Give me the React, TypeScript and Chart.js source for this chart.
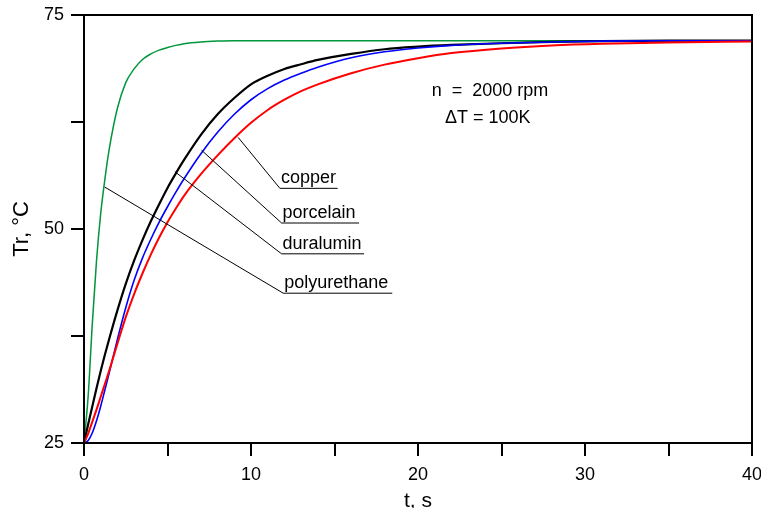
import React, { useEffect, useRef } from 'react';
import { Chart, registerables } from 'chart.js';

Chart.register(...registerables);

// time axis (s)
const times = [0, 0.25, 0.5, 0.75, 1, 1.25, 1.5, 2, 2.5, 3, 3.5, 4, 4.5, 5, 5.5, 6, 7, 8, 9, 10, 11, 12, 13, 14, 16, 18, 20, 22, 25, 28, 31, 35, 40];

// Tr (°C) per material
const polyurethane = [25, 30.5, 39, 46.3, 51.8, 55.8, 59.2, 64.1, 67.1, 68.7, 69.8, 70.45, 70.9, 71.2, 71.45, 71.65, 71.85, 71.95, 72, 72, 72, 72, 72, 72, 72, 72, 72, 72, 72, 72, 72, 72, 72];
const duralumin = [25, 27.2, 29.3, 31.4, 33.4, 35.3, 37.1, 40.5, 43.6, 46.3, 48.7, 50.9, 52.9, 54.8, 56.5, 58.1, 61, 63.4, 65.3, 66.9, 67.9, 68.7, 69.25, 69.75, 70.45, 71, 71.3, 71.5, 71.7, 71.85, 71.95, 72, 72];
const porcelain = [25, 25.3, 26.2, 27.6, 29.3, 31.2, 33.1, 37.1, 40.8, 44, 46.6, 48.8, 50.8, 52.6, 54.3, 55.9, 58.8, 61.3, 63.4, 65.1, 66.4, 67.4, 68.2, 68.9, 70, 70.7, 71.15, 71.45, 71.7, 71.85, 71.95, 72, 72];
const copper = [25, 26.1, 27.5, 28.9, 30.4, 31.9, 33.4, 36.6, 39.7, 42.4, 44.8, 47, 49, 50.8, 52.4, 53.9, 56.4, 58.6, 60.6, 62.4, 63.9, 65.1, 66.1, 66.9, 68.2, 69.2, 69.95, 70.55, 71.1, 71.45, 71.65, 71.8, 71.9];

// leader labels (data coordinates)
const leaderLabels = ['copper', 'porcelain', 'duralumin', 'polyurethane'];
const leaderStartT = [9.23, 7.04, 5.44, 1.24];
const leaderStartTr = [60.7, 59.2, 56.7, 54.9];
const leaderElbowT = [11.73, 11.83, 11.83, 11.93];
const leaderLineTr = [54.75, 50.7, 47.1, 42.5];
const leaderEndT = [15.19, 16.47, 16.77, 18.46];

// condition notes
const noteLines = ['n  =  2000 rpm', '\u0394T = 100K'];
const noteT = [20.82, 21.62];
const noteTr = [65.48, 62.4];

// axis ticks
const xTickStep = 5;
const xLabelStep = 10;
const yTickStep = 12.5;
const yLabelStep = 25;

const FONT = "'Liberation Sans', Arial, Helvetica, sans-serif";

const toPoints = (vals: number[]) => vals.map((v, i) => ({ x: times[i], y: v }));

const annotationPlugin = {
  id: 'annot',
  afterDatasetsDraw(chart: any) {
    const { ctx, chartArea, scales } = chart;
    const xs = scales.x;
    const ys = scales.y;
    ctx.save();
    // frame
    ctx.strokeStyle = '#000';
    ctx.lineWidth = 2;
    ctx.strokeRect(chartArea.left, chartArea.top, chartArea.right - chartArea.left, chartArea.bottom - chartArea.top);
    // leaders
    ctx.lineWidth = 1;
    ctx.font = `18px ${FONT}`;
    ctx.fillStyle = '#000';
    ctx.textAlign = 'left';
    ctx.textBaseline = 'alphabetic';
    leaderLabels.forEach((lab, i) => {
      const x0 = xs.getPixelForValue(leaderStartT[i]);
      const y0 = ys.getPixelForValue(leaderStartTr[i]);
      const x1 = xs.getPixelForValue(leaderElbowT[i]);
      const y1 = ys.getPixelForValue(leaderLineTr[i]);
      const x2 = xs.getPixelForValue(leaderEndT[i]);
      ctx.beginPath();
      ctx.moveTo(x0, y0);
      ctx.lineTo(x1, y1);
      ctx.lineTo(x2, y1);
      ctx.stroke();
      ctx.fillText(lab, x1 + 1, y1 - 5);
    });
    noteLines.forEach((txt, i) => {
      ctx.fillText(txt, xs.getPixelForValue(noteT[i]), ys.getPixelForValue(noteTr[i]));
    });
    ctx.restore();
  },
};

export default function App() {
  const ref = useRef<HTMLCanvasElement | null>(null);
  useEffect(() => {
    if (!ref.current) return;
    const chart = new Chart(ref.current, {
      type: 'line',
      data: {
        datasets: [
          { label: 'copper', data: toPoints(copper), borderColor: '#ff0000', borderWidth: 2 },
          { label: 'porcelain', data: toPoints(porcelain), borderColor: '#0000ff', borderWidth: 1.6 },
          { label: 'duralumin', data: toPoints(duralumin), borderColor: '#000000', borderWidth: 2.2 },
          { label: 'polyurethane', data: toPoints(polyurethane), borderColor: '#00963c', borderWidth: 1.5 },
        ].map((d) => ({ ...d, pointRadius: 0, fill: false, cubicInterpolationMode: 'monotone' as const })),
      },
      options: {
        responsive: false,
        animation: false,
        layout: { padding: { top: 15, right: 9, left: 0, bottom: 0 } },
        plugins: { legend: { display: false }, tooltip: { enabled: false } },
        scales: {
          x: {
            type: 'linear',
            min: 0,
            max: 40,
            afterFit: (s: any) => { s.height = 65; s.paddingLeft = 0; s.paddingRight = 0; },
            border: { display: true, width: 2, color: '#000' },
            grid: { display: true, drawOnChartArea: false, drawTicks: true, tickLength: 13, lineWidth: 2, color: '#000' },
            ticks: {
              stepSize: xTickStep,
              padding: 8,
              color: '#000',
              maxRotation: 0,
              autoSkip: false,
              font: { size: 18, family: FONT },
              callback: (v: any) => (Number(v) % xLabelStep === 0 ? String(v) : ''),
            },
            title: { display: true, text: 't, s', color: '#000', font: { size: 21, family: FONT, lineHeight: 0.6 }, padding: { top: 0, bottom: 0 } },
          },
          y: {
            type: 'linear',
            min: 25,
            max: 75,
            afterFit: (s: any) => { s.width = 84; s.paddingTop = 0; s.paddingBottom = 0; },
            border: { display: true, width: 2, color: '#000' },
            grid: { display: true, drawOnChartArea: false, drawTicks: true, tickLength: 13, lineWidth: 2, color: '#000' },
            ticks: {
              stepSize: yTickStep,
              padding: 7,
              color: '#000',
              autoSkip: false,
              font: { size: 18, family: FONT },
              callback: (v: any) => (Number(v) % yLabelStep === 0 ? String(v) : ''),
            },
            title: { display: true, text: 'Tr, °C', color: '#000', font: { size: 22, family: FONT, lineHeight: 1 }, padding: { top: 11, bottom: 0 } },
          },
        },
      },
      plugins: [annotationPlugin],
    });
    return () => chart.destroy();
  }, []);
  return (
    <div style={{ position: 'absolute', left: 0, top: 0, width: 761, height: 508, background: '#fff' }}>
      <canvas ref={ref} width={761} height={508} />
    </div>
  );
}
